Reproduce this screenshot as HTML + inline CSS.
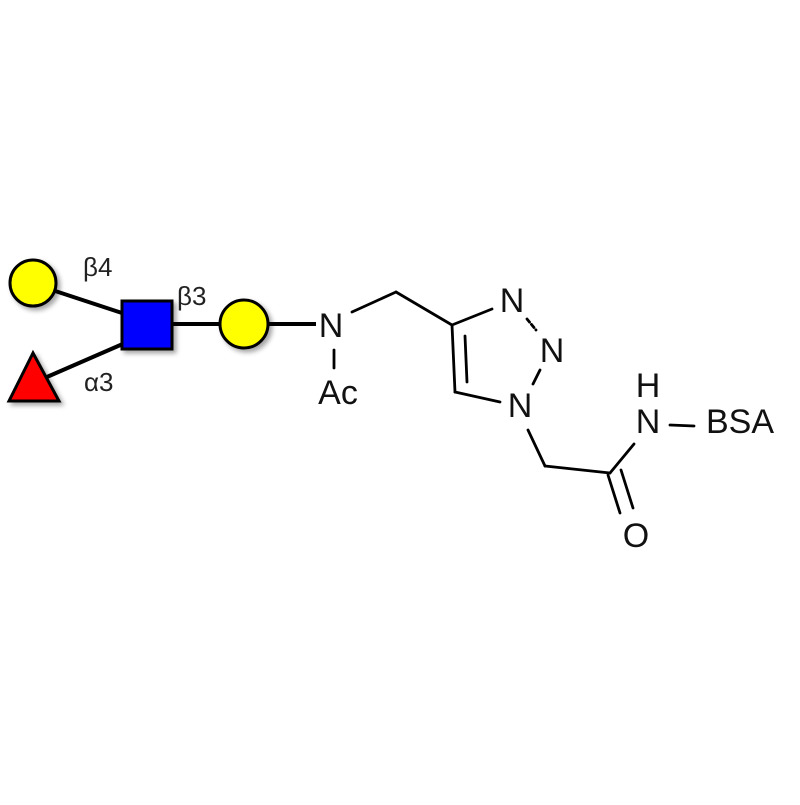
<!DOCTYPE html>
<html><head><style>html,body{margin:0;padding:0;background:#fff}</style></head>
<body>
<svg width="800" height="800" viewBox="0 0 800 800" xmlns="http://www.w3.org/2000/svg">
<defs><filter id="sh" x="-30%" y="-30%" width="170%" height="170%"><feDropShadow dx="3" dy="3" stdDeviation="2.5" flood-color="#000" flood-opacity="0.35"/></filter></defs>
<g stroke="#000" stroke-width="4" fill="none">
<line x1="40" y1="286" x2="125" y2="314"/>
<line x1="40" y1="380" x2="125" y2="343"/>
<line x1="150" y1="324" x2="244" y2="324"/>
<line x1="244" y1="324" x2="316" y2="324"/>
</g>
<g stroke="#000" stroke-width="3" filter="url(#sh)">
<circle cx="33" cy="283" r="23" fill="#ffff00"/>
<rect x="122" y="301" width="50" height="48" fill="#0000ff"/>
<circle cx="244" cy="324" r="24" fill="#ffff00"/>
<polygon points="33,353 59,401 9,401" fill="#ff0000"/>
</g>
<g font-family="Liberation Sans, DejaVu Sans, sans-serif" font-size="26" fill="#222">
<text x="83" y="276">β4</text>
<text x="177" y="305">β3</text>
<text x="84" y="391">α3</text>
</g>
<g stroke="#000" stroke-width="2.8" fill="none" stroke-linecap="round">
<line x1="352" y1="312" x2="396" y2="292"/>
<line x1="396" y1="292" x2="452" y2="325"/>
<line x1="334" y1="350" x2="334" y2="368"/>
<line x1="452" y1="325" x2="492" y2="309"/>
<line x1="527" y1="319" x2="536" y2="330" stroke-dasharray="4 3"/>
<line x1="540" y1="370" x2="533" y2="384"/>
<line x1="452" y1="325" x2="455" y2="392"/>
<line x1="465" y1="336" x2="467" y2="382"/>
<line x1="455" y1="392" x2="500" y2="402"/>
<line x1="528" y1="430" x2="545" y2="466"/>
<line x1="545" y1="466" x2="610" y2="473"/>
<line x1="610" y1="473" x2="634" y2="444"/>
<line x1="608" y1="475" x2="620" y2="513"/>
<line x1="621" y1="470" x2="633" y2="508"/>
<line x1="670" y1="425" x2="694" y2="426"/>
</g>
<g font-family="Liberation Sans, DejaVu Sans, sans-serif" font-size="34" fill="#111" text-anchor="middle">
<text x="331" y="337">N</text>
<text x="338" y="404">Ac</text>
<text x="512" y="312">N</text>
<text x="552" y="362">N</text>
<text x="520" y="417">N</text>
<text x="648" y="433">N</text>
<text x="648" y="397">H</text>
<text x="636" y="547">O</text>
<text x="740" y="433">BSA</text>
</g>
</svg>
</body></html>
